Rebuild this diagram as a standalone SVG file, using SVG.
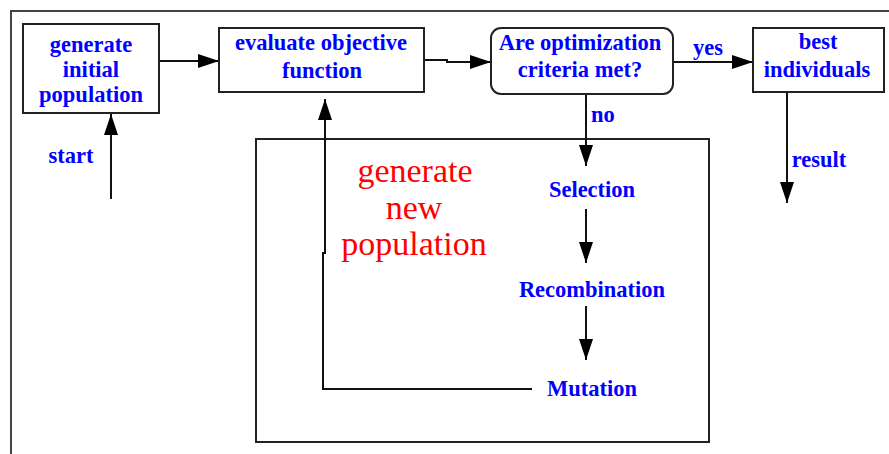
<svg xmlns="http://www.w3.org/2000/svg" width="889" height="454" viewBox="0 0 889 454">
<style>
.box{fill:#fff;stroke:#222;stroke-width:2}
.frame{fill:none;stroke:#444;stroke-width:2}
.ln{fill:none;stroke:#111;stroke-width:2}
.t{font-family:"Liberation Serif","Times New Roman",serif;font-weight:bold;font-size:22.5px;fill:#0000ff;text-anchor:middle}
.r{font-family:"Liberation Serif","Times New Roman",serif;font-size:34px;fill:#ff0000;text-anchor:middle}
</style>
<defs>
<marker id="ah" markerUnits="userSpaceOnUse" markerWidth="22" markerHeight="16" refX="21" refY="8" orient="auto">
<path d="M0,1 L21,8 L0,15 z" fill="#000"/>
</marker>
</defs>
<rect x="0" y="0" width="889" height="454" fill="#fff"/>
<rect class="frame" x="11" y="11" width="900" height="460"/>
<g id="inner">
<rect class="frame" x="256" y="139" width="453" height="303" style="stroke:#222"/>
<text class="r" x="415" y="182">generate</text>
<text class="r" x="414" y="219">new</text>
<text class="r" x="414" y="255">population</text>
</g>
<g id="connectors">
<line class="ln" x1="160" y1="61" x2="219" y2="61" marker-end="url(#ah)"/>
<path class="ln" d="M424,60 L447,60 L447,62 L491,62" marker-end="url(#ah)"/>
<line class="ln" x1="673" y1="62" x2="753" y2="62" marker-end="url(#ah)"/>
<line class="ln" x1="111" y1="199" x2="111" y2="114" marker-end="url(#ah)"/>
<path class="ln" d="M532,389 L323,389 L323,253 L325,253 L325,99" marker-end="url(#ah)"/>
<line class="ln" x1="586" y1="95" x2="586" y2="166" marker-end="url(#ah)"/>
<line class="ln" x1="586" y1="209" x2="586" y2="263" marker-end="url(#ah)"/>
<line class="ln" x1="586" y1="306" x2="586" y2="360" marker-end="url(#ah)"/>
<line class="ln" x1="787" y1="92" x2="787" y2="203" marker-end="url(#ah)"/>
<text class="t" x="71" y="163">start</text>
<text class="t" x="708" y="55">yes</text>
<text class="t" x="603" y="122">no</text>
<text class="t" x="819" y="167">result</text>
</g>
<g id="gen-init">
<rect class="box" x="23" y="24" width="136" height="89"/>
<text class="t" x="91" y="52">generate</text>
<text class="t" x="91" y="77">initial</text>
<text class="t" x="91" y="102">population</text>
</g>
<g id="evaluate">
<rect class="box" x="219" y="28" width="205" height="64"/>
<text class="t" x="321" y="50">evaluate objective</text>
<text class="t" x="322" y="78">function</text>
</g>
<g id="criteria">
<rect class="box" x="491" y="28" width="182" height="66" rx="10" ry="10"/>
<text class="t" x="580" y="50">Are optimization</text>
<text class="t" x="580" y="77">criteria met?</text>
</g>
<g id="best">
<rect class="box" x="753" y="28" width="131" height="64"/>
<text class="t" x="818" y="49">best</text>
<text class="t" x="817" y="77">individuals</text>
</g>
<g id="selection"><text class="t" x="592" y="197">Selection</text></g>
<g id="recombination"><text class="t" x="592" y="297">Recombination</text></g>
<g id="mutation"><text class="t" x="592" y="396">Mutation</text></g>
</svg>
